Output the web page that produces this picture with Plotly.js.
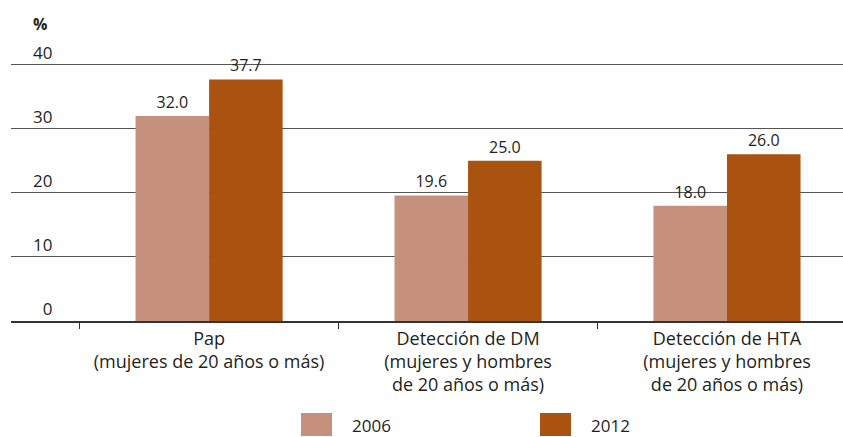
<!DOCTYPE html>
<html><head><meta charset="utf-8">
<script src="https://cdn.plot.ly/plotly-3.0.1.min.js"></script>
<style>html,body{margin:0;padding:0;background:#fff}#c{width:843px;height:437px}</style>
</head><body><div id="c"></div>
<script>
const categories = ["Pap<br>(mujeres de 20 años o más)", "Detección de DM<br>(mujeres y hombres<br>de 20 años o más)", "Detección de HTA<br>(mujeres y hombres<br>de 20 años o más)"];
const seriesNames = ["2006", "2012"];
const values2006 = [32.0, 19.6, 18.0];
const values2012 = [37.7, 25.0, 26.0];
const yTickVals = [0, 10, 20, 30, 40];
const yTickText = ["\u20070", "10", "20", "30", "40"];
const colors = ["#c5917c", "#aa5310"];
const FONT = "Open Sans, sans-serif";
const TXT = "#231f20";

const traces = [values2006, values2012].map((v, i) => ({
  type: "bar", name: seriesNames[i], x: categories, y: v,
  marker: {color: colors[i]},
  text: v.map(d => d.toFixed(1)), textposition: "outside",
  textfont: {family: FONT, size: 16, color: TXT},
  cliponaxis: false, showlegend: false, hoverinfo: "skip"
}));

const legendX = [301, 540];
const shapes = [], annotations = [];
seriesNames.forEach((n, i) => {
  shapes.push({type: "rect", xref: "paper", yref: "paper",
    x0: (legendX[i] - 11) / 832, x1: (legendX[i] + 31 - 11) / 832,
    y0: -(436 - 321) / 282, y1: -(413 - 321) / 282,
    fillcolor: colors[i], line: {width: 0}});
  annotations.push({xref: "paper", yref: "paper", x: (legendX[i] + 49 - 11) / 832,
    y: -(425 - 321) / 282, xanchor: "left", yanchor: "middle", showarrow: false,
    text: n, font: {family: FONT, size: 17, color: TXT}});
});
annotations.push({xref: "paper", yref: "paper", x: (31 - 11) / 832, y: (321 - 24) / 282,
  xanchor: "left", yanchor: "middle", showarrow: false, text: "<b>%</b>",
  font: {family: FONT, size: 16, color: TXT}});

const layout = {
  width: 843, height: 437,
  margin: {l: 11, r: 0, t: 39, b: 116},
  paper_bgcolor: "#fff", plot_bgcolor: "#fff",
  barmode: "group", bargap: 0.432, bargroupgap: 0,
  font: {family: FONT, color: TXT},
  xaxis: {type: "category", range: [-0.765, 2.448], tickson: "boundaries",
    ticks: "outside", ticklen: 6, tickcolor: "#333", tickwidth: 1,
    showline: true, linecolor: "#333", linewidth: 2,
    tickfont: {family: FONT, size: 18, color: TXT}, automargin: false},
  yaxis: {range: [0, 44], tickvals: yTickVals, ticktext: yTickText,
    ticklabelposition: "inside top", ticklabelstandoff: 19, ticklabeloverflow: "allow",
    showgrid: true, gridcolor: "#555", gridwidth: 1, zeroline: false,
    ticks: "", showline: false,
    tickfont: {family: FONT, size: 17, color: TXT}, automargin: false},
  shapes: shapes, annotations: annotations
};
Plotly.newPlot("c", traces, layout, {displayModeBar: false, staticPlot: true});
</script></body></html>
